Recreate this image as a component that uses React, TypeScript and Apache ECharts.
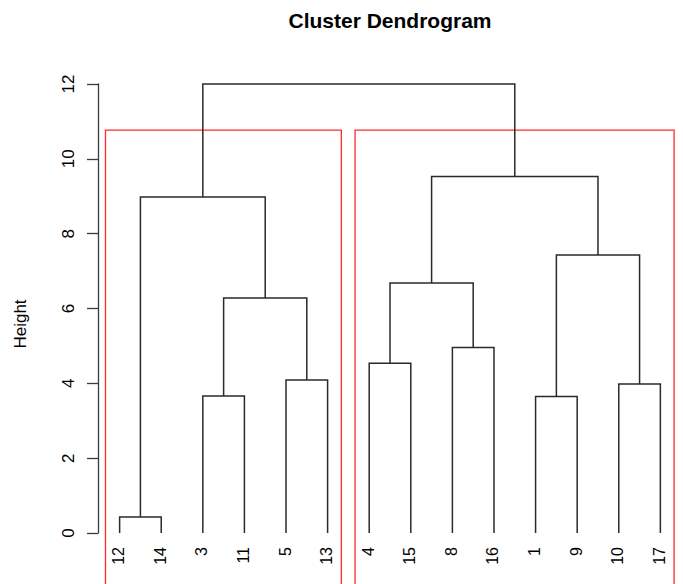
import React, { useEffect, useRef } from "react";
import * as echarts from "echarts";

// Leaf labels in dendrogram order (positions 1..14)
const leafLabels = ["12", "14", "3", "11", "5", "13", "4", "15", "8", "16", "1", "9", "10", "17"];
// Merge table (R hclust style): negative = leaf position, positive = earlier merge (1-based)
const mergeA = [-1, -11, -3, -13, -5, -7, -9, 3, 6, 2, 1, 9, 11];
const mergeB = [-2, -12, -4, -14, -6, -8, -10, 5, 7, 4, 8, 10, 12];
const mergeHeight = [0.43, 3.65, 3.66, 3.98, 4.09, 4.54, 4.96, 6.28, 6.68, 7.43, 8.98, 9.53, 12.0];
// Clusters from rect.hclust(k = 2): first / last leaf positions
const clusterFirst = [1, 7];
const clusterLast = [6, 14];
const yMin = 0;
const yMax = 12;
const yStep = 2;

const FONT = "'Liberation Sans', Arial, Helvetica, sans-serif";

function node(i: number): [number, number] {
  if (i < 0) return [-i, 0];
  const a = node(mergeA[i - 1]);
  const b = node(mergeB[i - 1]);
  return [(a[0] + b[0]) / 2, mergeHeight[i - 1]];
}

export default function App() {
  const ref = useRef<HTMLDivElement>(null);
  useEffect(() => {
    if (!ref.current) return;
    const chart = echarts.init(ref.current, null, { renderer: "svg" });
    const n = leafLabels.length;
    const pad = (n - 1) * 0.04;

    const segData = mergeHeight.map((h, k) => {
      const a = node(mergeA[k]);
      const b = node(mergeB[k]);
      return [a[0], a[1], b[0], b[1], h];
    });
    const sorted = [...mergeHeight].sort((p, q) => q - p);
    const boxTop = (sorted[0] + sorted[1]) / 2;
    const boxData = clusterFirst.map((f, k) => [f - 1 + 0.66, clusterLast[k] + 0.33, boxTop]);
    const labelData = leafLabels.map((l, k) => [k + 1, 0, l]);

    chart.setOption({
      animation: false,
      backgroundColor: "#ffffff",
      title: {
        text: "Cluster Dendrogram",
        left: 390,
        textAlign: "center",
        top: 10,
        padding: 0,
        textStyle: { fontFamily: FONT, fontSize: 21, fontWeight: "bold", color: "#000" },
      },
      grid: { left: 98, right: 1, top: 84, bottom: 51, containLabel: false },
      xAxis: { type: "value", min: 1 - pad, max: n + pad, show: false },
      yAxis: {
        type: "value",
        min: yMin,
        max: yMax,
        interval: yStep,
        splitLine: { show: false },
        axisLine: { show: true, lineStyle: { color: "#3a3a3a", width: 1.3 } },
        axisTick: { show: true, length: 11, lineStyle: { color: "#3a3a3a", width: 1.3 } },
        axisLabel: { rotate: 90, fontSize: 17, color: "#000", fontFamily: FONT, margin: 21 },
      },
      graphic: [
        {
          type: "text",
          x: 20,
          y: 324,
          rotation: Math.PI / 2,
          style: {
            text: "Height",
            fontSize: 17,
            fontFamily: FONT,
            fill: "#000",
            align: "center",
            verticalAlign: "middle",
          },
        },
      ],
      series: [
        {
          type: "custom",
          clip: false,
          data: boxData,
          renderItem: (params: any, api: any) => {
            const tl = api.coord([api.value(0), api.value(2)]);
            const br = api.coord([api.value(1), -4]);
            return {
              type: "rect",
              shape: { x: tl[0], y: tl[1], width: br[0] - tl[0], height: br[1] - tl[1] },
              style: { stroke: "#ff2a2a", lineWidth: 1.3, fill: "none" },
            };
          },
        },
        {
          type: "custom",
          clip: false,
          data: segData,
          renderItem: (params: any, api: any) => {
            const p1 = api.coord([api.value(0), api.value(1)]);
            const p2 = api.coord([api.value(0), api.value(4)]);
            const p3 = api.coord([api.value(2), api.value(4)]);
            const p4 = api.coord([api.value(2), api.value(3)]);
            return {
              type: "polyline",
              shape: { points: [p1, p2, p3, p4] },
              style: { stroke: "#2a2a2a", lineWidth: 1.5, fill: "none" },
            };
          },
        },
        {
          type: "custom",
          clip: false,
          data: labelData,
          renderItem: (params: any, api: any) => {
            const p = api.coord([api.value(0), api.value(1)]);
            return {
              type: "text",
              x: p[0] - 1,
              y: p[1] + 14,
              rotation: Math.PI / 2,
              style: {
                text: leafLabels[params.dataIndex],
                fontSize: 16,
                fontFamily: FONT,
                fill: "#000",
                align: "right",
                verticalAlign: "middle",
              },
            };
          },
        },
      ],
    });
    return () => chart.dispose();
  }, []);
  return (
    <div
      ref={ref}
      style={{ position: "fixed", left: 0, top: 0, width: 683, height: 584, background: "#fff" }}
    />
  );
}
